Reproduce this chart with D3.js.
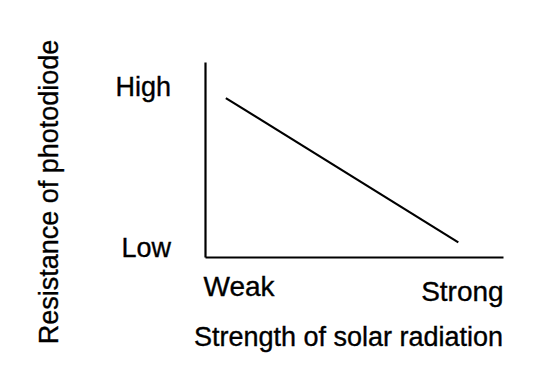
<!DOCTYPE html>
<html>
<head>
<meta charset="utf-8">
<script src="https://cdn.jsdelivr.net/npm/d3@7"></script>
<style>
  body { margin: 0; background: #fff; }
  text { font-family: "Liberation Sans", Arial, sans-serif; fill: #000; stroke: #000; stroke-width: 0.35; }
</style>
</head>
<body>
<div class="chart"></div>
<script>
// data (relative units 0-100)
const strength = [7, 85]          // solar radiation strength
const resistance = [81.5, 7.5]    // resistance of photodiode
const xTickValues = [0, 86.2]
const xTickLabels = ["Weak", "Strong"]
const yTickValues = [4.9, 87]
const yTickLabels = ["Low", "High"]

const W = 560, H = 378
const margin = {top: 62, right: 57, bottom: 121, left: 205},
    width = W - margin.left - margin.right,
    height = H - margin.top - margin.bottom;

const svg = d3.select(".chart")
  .append("svg")
    .attr("width", W)
    .attr("height", H)
  .append("g")
    .attr("transform", `translate(${margin.left},${margin.top})`);

const x = d3.scaleLinear().domain([0, 100]).range([0, width])
const y = d3.scaleLinear().domain([0, 100]).range([height, 0])

// x axis
const xAxis = svg.append("g")
    .attr("transform", `translate(0, ${height})`)
    .call(d3.axisBottom(x)
      .tickValues(xTickValues)
      .tickFormat((d, i) => xTickLabels[i])
      .tickSize(0))
xAxis.selectAll("text")
    .attr("font-size", 28)
    .attr("text-anchor", (d, i) => i == 0 ? "start" : "middle")
    .attr("dy", 0)
    .attr("y", (d, i) => i == 0 ? 39 : 44)
    .attr("x", (d, i) => i == 0 ? -2 : 0)

// y axis
const yAxis = svg.append("g")
    .call(d3.axisLeft(y)
      .tickValues(yTickValues)
      .tickFormat((d, i) => yTickLabels[i])
      .tickSize(0)
      .tickPadding(34))
yAxis.selectAll("text").attr("font-size", 27)

svg.selectAll(".domain")
    .attr("stroke", "#000")
    .attr("stroke-width", 2.2)

// the line
const pts = strength.map((d, i) => [d, resistance[i]])
svg.append("path")
    .datum(pts)
    .attr("fill", "none")
    .attr("stroke", "#000")
    .attr("stroke-width", 2.2)
    .attr("d", d3.line().x(d => x(d[0])).y(d => y(d[1])))

// axis titles
svg.append("text")
    .attr("x", 348.5 - margin.left)
    .attr("y", 346 - margin.top)
    .attr("text-anchor", "middle")
    .attr("font-size", 27)
    .text("Strength of solar radiation")

svg.append("text")
    .attr("transform", `translate(${58 - margin.left},${192 - margin.top}) rotate(-90)`)
    .attr("text-anchor", "middle")
    .attr("font-size", 27)
    .text("Resistance of photodiode")
</script>
</body>
</html>
